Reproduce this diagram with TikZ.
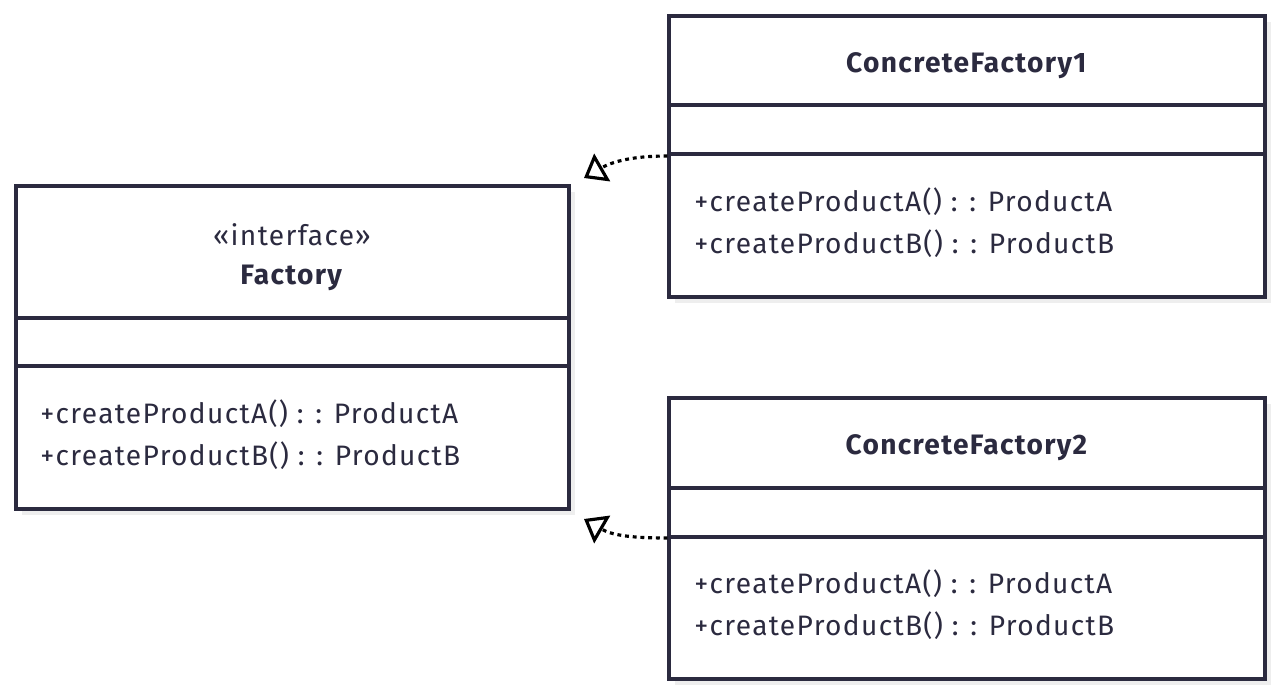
\documentclass[tikz,border=0pt]{standalone}
\usepackage{fontspec}
\setmainfont[LetterSpace=4.8]{Fira Sans}
\usetikzlibrary{arrows.meta}
\definecolor{linha}{HTML}{2B2A3F}
\definecolor{sombra}{HTML}{EEEEEE}
\tikzset{
	classe/.style={draw=linha, line width=1.8pt, fill=white, inner sep=0pt},
	divisor/.style={draw=linha, line width=1.8pt},
	texto/.style={text=linha, inner sep=0pt, font=\fontsize{16}{19}\selectfont},
	seta/.style={-{Triangle[open, length=12pt, width=18pt, line width=1.8pt]}, line width=1.8pt, dash pattern=on 2.2pt off 2.2pt, black},
}
\begin{document}
\begin{tikzpicture}[x=0.02cm, y=-0.02cm]
		\useasboundingbox (0,0) rectangle (1281,696);
		% Sombras
		\fill[sombra] (22,192) rectangle (575,515);
		\fill[sombra] (675,22) rectangle (1271,303);
		\fill[sombra] (675,404) rectangle (1271,685);

		% Classes
		\node[classe, minimum width=11.06cm, minimum height=6.46cm] (fab) at (292.5,347.5) {};			% Factory
		\node[classe, minimum width=11.92cm, minimum height=5.62cm] (cf1) at (967,156.5) {};				% ConcreteFactory1
		\node[classe, minimum width=11.92cm, minimum height=5.62cm] (cf2) at (967,538.5) {};				% ConcreteFactory2

		% Divisores
		\draw[divisor] (fab.west |- 0,318) -- (fab.east |- 0,318);
		\draw[divisor] (fab.west |- 0,366) -- (fab.east |- 0,366);
		\draw[divisor] (cf1.west |- 0,105) -- (cf1.east |- 0,105);
		\draw[divisor] (cf1.west |- 0,154) -- (cf1.east |- 0,154);
		\draw[divisor] (cf2.west |- 0,488) -- (cf2.east |- 0,488);
		\draw[divisor] (cf2.west |- 0,537) -- (cf2.east |- 0,537);

		% Textos
		\node[texto] (fabEst) at (292,235) 				{«interface»};
		\node[texto] (fabNome) at (292,278) 			{\textbf{Factory}};
		\node[texto, anchor=west] (fabA) at (40,414) 	{+createProductA() : : ProductA};
		\node[texto, anchor=west] (fabB) at (40,456) 	{+createProductB() : : ProductB};

		\node[texto] (cf1Nome) at (967,66) 				{\textbf{ConcreteFactory1}};
		\node[texto, anchor=west] (cf1A) at (694,202) 	{+createProductA() : : ProductA};
		\node[texto, anchor=west] (cf1B) at (694,244) 	{+createProductB() : : ProductB};

		\node[texto] (cf2Nome) at (967,448) 			{\textbf{ConcreteFactory2}};
		\node[texto, anchor=west] (cf2A) at (694,584) 	{+createProductA() : : ProductA};
		\node[texto, anchor=west] (cf2B) at (694,626) 	{+createProductB() : : ProductB};

		% Setas
		\coordinate (p1) at (584,178);
		\coordinate (p2) at (584,519);
		\draw[seta] (cf1.west |- 0,156) to[out=180,in=30]  (p1);
		\draw[seta] (cf2.west |- 0,538) to[out=180,in=-30] (p2);
	\end{tikzpicture}
\end{document}
